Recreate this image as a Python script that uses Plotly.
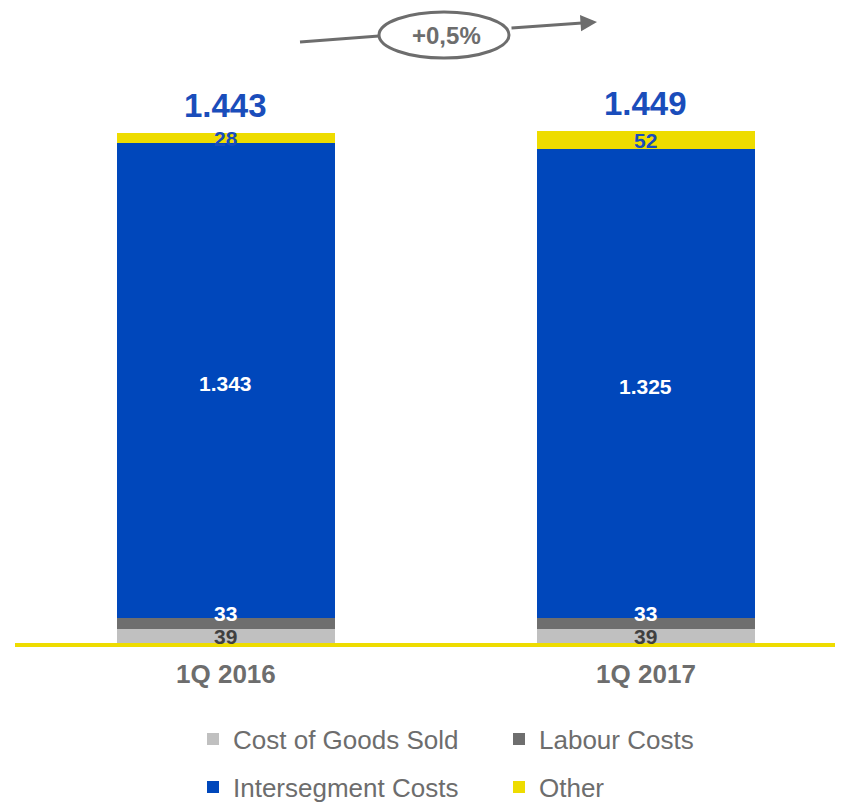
import plotly.graph_objects as go

periods = ["1Q 2016", "1Q 2017"]
series_names = ["Cost of Goods Sold", "Labour Costs", "Intersegment Costs", "Other"]
cogs = [39, 39]
labour = [33, 33]
interseg = [1343, 1325]
other = [28, 52]
totals = [1443, 1449]
change_label = "+0,5%"

colors = ["#C0C0C0", "#6E6E6E", "#0047BB", "#EEDC00"]
label_colors = ["#404040", "#FFFFFF", "#FFFFFF", "#1A4DBB"]
label_shift = [0, 10, -3, 0]
legends = ["legend", "legend", "legend2", "legend2"]
GRAY = "#6D6D6D"
FONT = "Arial, Liberation Sans, sans-serif"

OFF = 8  # page body margin
W, H = 843 - OFF, 804 - OFF
# plot area in page pixels
L, R, T, B = 15, 843, 60, 643


def px(x):
    return (x - L) / (R - L)


def py(y):
    return (B - y) / (B - T)


def fmt(v):
    return f"{v:,}".replace(",", ".")


fig = go.Figure()
all_vals = [cogs, labour, interseg, other]
for name, vals, c, lg in zip(series_names, all_vals, colors, legends):
    fig.add_trace(go.Bar(x=periods, y=vals, name=name, marker=dict(color=c, line=dict(width=0)),
                         width=0.52, legend=lg, hoverinfo="skip"))

# segment labels
annotations = []
bottoms = [0, 0]
for k, vals in enumerate(all_vals):
    for i, p in enumerate(periods):
        annotations.append(dict(x=p, y=bottoms[i] + vals[i] / 2, xref="x", yref="y", text=f"<b>{fmt(vals[i])}</b>",
                                showarrow=False, yshift=label_shift[k],
                                font=dict(family=FONT, size=21, color=label_colors[k])))
        bottoms[i] += vals[i]

# totals
for p, t in zip(periods, totals):
    annotations.append(dict(x=p, y=t, xref="x", yref="y", text=f"<b>{fmt(t)}</b>", showarrow=False,
                            yanchor="middle", yshift=28, font=dict(family=FONT, size=33, color="#1A4DBB")))

# growth arrow
annotations.append(dict(x=px(597), y=py(22), xref="paper", yref="paper", ax=-87, ay=6, axref="pixel", ayref="pixel",
                        text="", showarrow=True, arrowhead=2, arrowsize=1.1, arrowwidth=3, arrowcolor=GRAY))
annotations.append(dict(x=px(446), y=py(36), xref="paper", yref="paper", text=f"<b>{change_label}</b>",
                        xanchor="center", yanchor="middle",
                        showarrow=False, font=dict(family=FONT, size=24, color=GRAY)))

shapes = [
    dict(type="line", xref="paper", yref="paper", x0=px(300), y0=py(42), x1=px(379), y1=py(36),
         line=dict(color=GRAY, width=3)),
    dict(type="circle", xref="paper", yref="paper", x0=px(379), x1=px(509), y0=py(58), y1=py(12),
         line=dict(color=GRAY, width=3), fillcolor="white"),
]

legend_style = dict(orientation="h", xref="container", yref="container", x=(193 - OFF) / W,
                    xanchor="left", yanchor="middle", entrywidth=261, entrywidthmode="pixels",
                    traceorder="normal", font=dict(family=FONT, size=26, color=GRAY))

fig.update_layout(
    width=W, height=H,
    barmode="stack",
    bargap=0,
    plot_bgcolor="white", paper_bgcolor="white",
    margin=dict(l=L - OFF, r=W - (R - OFF), t=T - OFF, b=H - (B - OFF)),
    xaxis=dict(range=[-0.502, 1.469], showline=True, linecolor="#EEDC00", linewidth=4, showgrid=False,
               ticks="", ticklabelstandoff=5,
               tickfont=dict(family=FONT, size=26, color=GRAY, weight="bold"), fixedrange=True),
    yaxis=dict(range=[0, 1650], visible=False, showgrid=False, zeroline=False),
    legend=dict(legend_style, y=(804 - 739) / H),
    legend2=dict(legend_style, y=(804 - 787) / H),
    annotations=annotations,
    shapes=shapes,
    showlegend=True,
)

fig.write_html("out.html")
